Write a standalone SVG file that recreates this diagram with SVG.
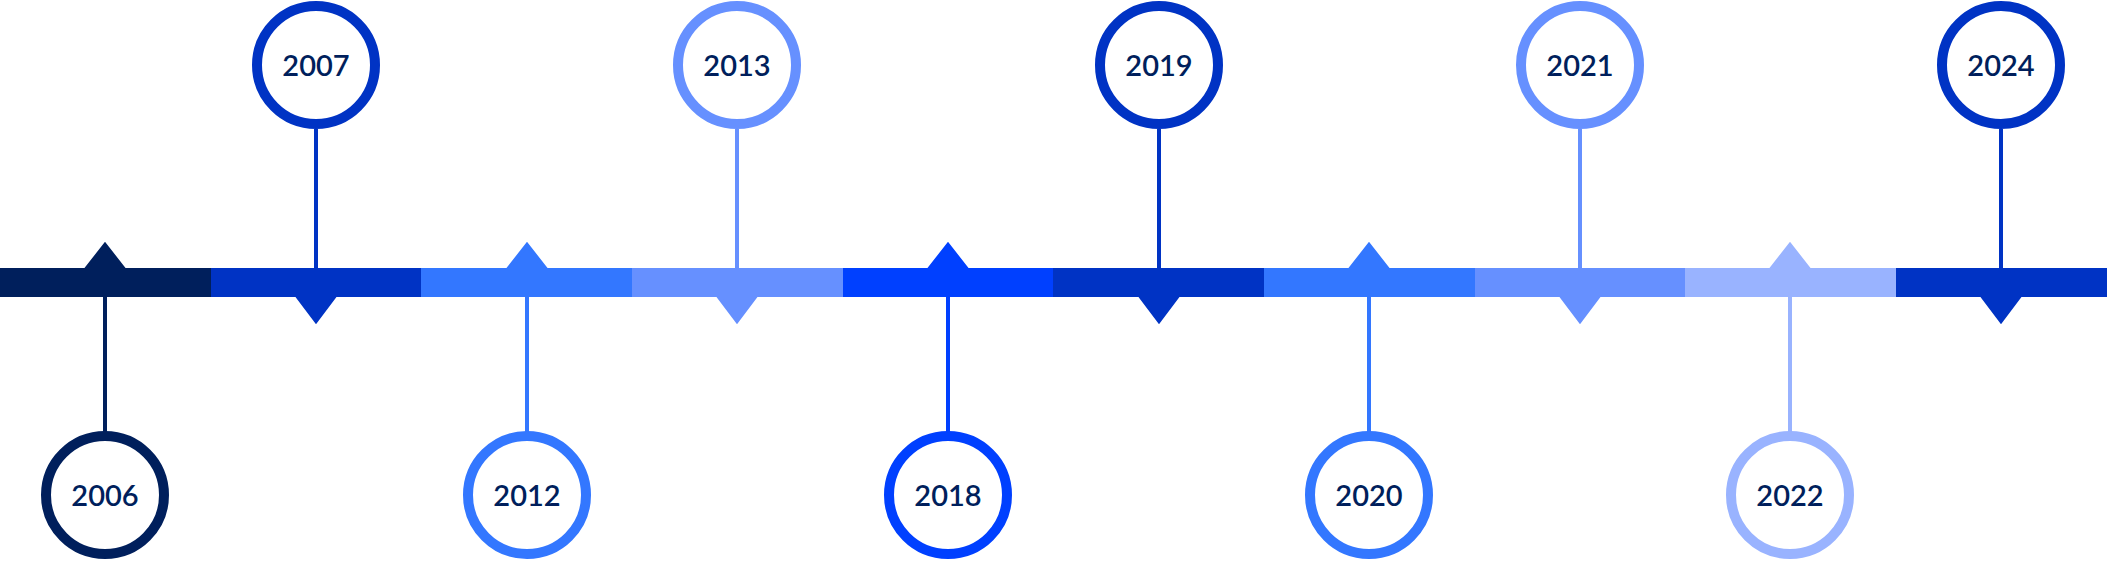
<svg xmlns="http://www.w3.org/2000/svg" width="2107" height="561" viewBox="0 0 2107 561">
<style>
.ring{fill:#fff;stroke-width:10}
.yr{font-family:Lato,"Noto Sans",sans-serif;font-size:29px;font-weight:600;fill:#001f5c;text-anchor:middle}
</style>
<rect width="2107" height="561" fill="#fff"/>
<g id="bar">
<rect x="0" y="268" width="211" height="29" fill="#001f5c"/>
<rect x="211" y="268" width="211" height="29" fill="#0033c4"/>
<rect x="421" y="268" width="211" height="29" fill="#3377ff"/>
<rect x="632" y="268" width="211" height="29" fill="#6690ff"/>
<rect x="843" y="268" width="211" height="29" fill="#0040ff"/>
<rect x="1053" y="268" width="211" height="29" fill="#0033c4"/>
<rect x="1264" y="268" width="211" height="29" fill="#3377ff"/>
<rect x="1475" y="268" width="211" height="29" fill="#6690ff"/>
<rect x="1685" y="268" width="211" height="29" fill="#99b3ff"/>
<rect x="1896" y="268" width="211" height="29" fill="#0033c4"/>
</g>
<g id="connectors">
<path d="M105 297V432M87 268L105 245L123 268Z" stroke="#001f5c" stroke-width="4" fill="#001f5c"/>
<path d="M316 268V129M298 297L316 321L334 297Z" stroke="#0033c4" stroke-width="4" fill="#0033c4"/>
<path d="M527 297V432M509 268L527 245L545 268Z" stroke="#3377ff" stroke-width="4" fill="#3377ff"/>
<path d="M737 268V129M719 297L737 321L755 297Z" stroke="#6690ff" stroke-width="4" fill="#6690ff"/>
<path d="M948 297V432M930 268L948 245L966 268Z" stroke="#0040ff" stroke-width="4" fill="#0040ff"/>
<path d="M1159 268V129M1141 297L1159 321L1177 297Z" stroke="#0033c4" stroke-width="4" fill="#0033c4"/>
<path d="M1369 297V432M1351 268L1369 245L1387 268Z" stroke="#3377ff" stroke-width="4" fill="#3377ff"/>
<path d="M1580 268V129M1562 297L1580 321L1598 297Z" stroke="#6690ff" stroke-width="4" fill="#6690ff"/>
<path d="M1790 297V432M1772 268L1790 245L1808 268Z" stroke="#99b3ff" stroke-width="4" fill="#99b3ff"/>
<path d="M2001 268V129M1983 297L2001 321L2019 297Z" stroke="#0033c4" stroke-width="4" fill="#0033c4"/>
</g>
<g id="n2006"><circle class="ring" cx="105" cy="495" r="59" stroke="#001f5c"/><text class="yr" x="105" y="506">2006</text></g>
<g id="n2007"><circle class="ring" cx="316" cy="65" r="59" stroke="#0033c4"/><text class="yr" x="316" y="76">2007</text></g>
<g id="n2012"><circle class="ring" cx="527" cy="495" r="59" stroke="#3377ff"/><text class="yr" x="527" y="506">2012</text></g>
<g id="n2013"><circle class="ring" cx="737" cy="65" r="59" stroke="#6690ff"/><text class="yr" x="737" y="76">2013</text></g>
<g id="n2018"><circle class="ring" cx="948" cy="495" r="59" stroke="#0040ff"/><text class="yr" x="948" y="506">2018</text></g>
<g id="n2019"><circle class="ring" cx="1159" cy="65" r="59" stroke="#0033c4"/><text class="yr" x="1159" y="76">2019</text></g>
<g id="n2020"><circle class="ring" cx="1369" cy="495" r="59" stroke="#3377ff"/><text class="yr" x="1369" y="506">2020</text></g>
<g id="n2021"><circle class="ring" cx="1580" cy="65" r="59" stroke="#6690ff"/><text class="yr" x="1580" y="76">2021</text></g>
<g id="n2022"><circle class="ring" cx="1790" cy="495" r="59" stroke="#99b3ff"/><text class="yr" x="1790" y="506">2022</text></g>
<g id="n2024"><circle class="ring" cx="2001" cy="65" r="59" stroke="#0033c4"/><text class="yr" x="2001" y="76">2024</text></g>
</svg>
